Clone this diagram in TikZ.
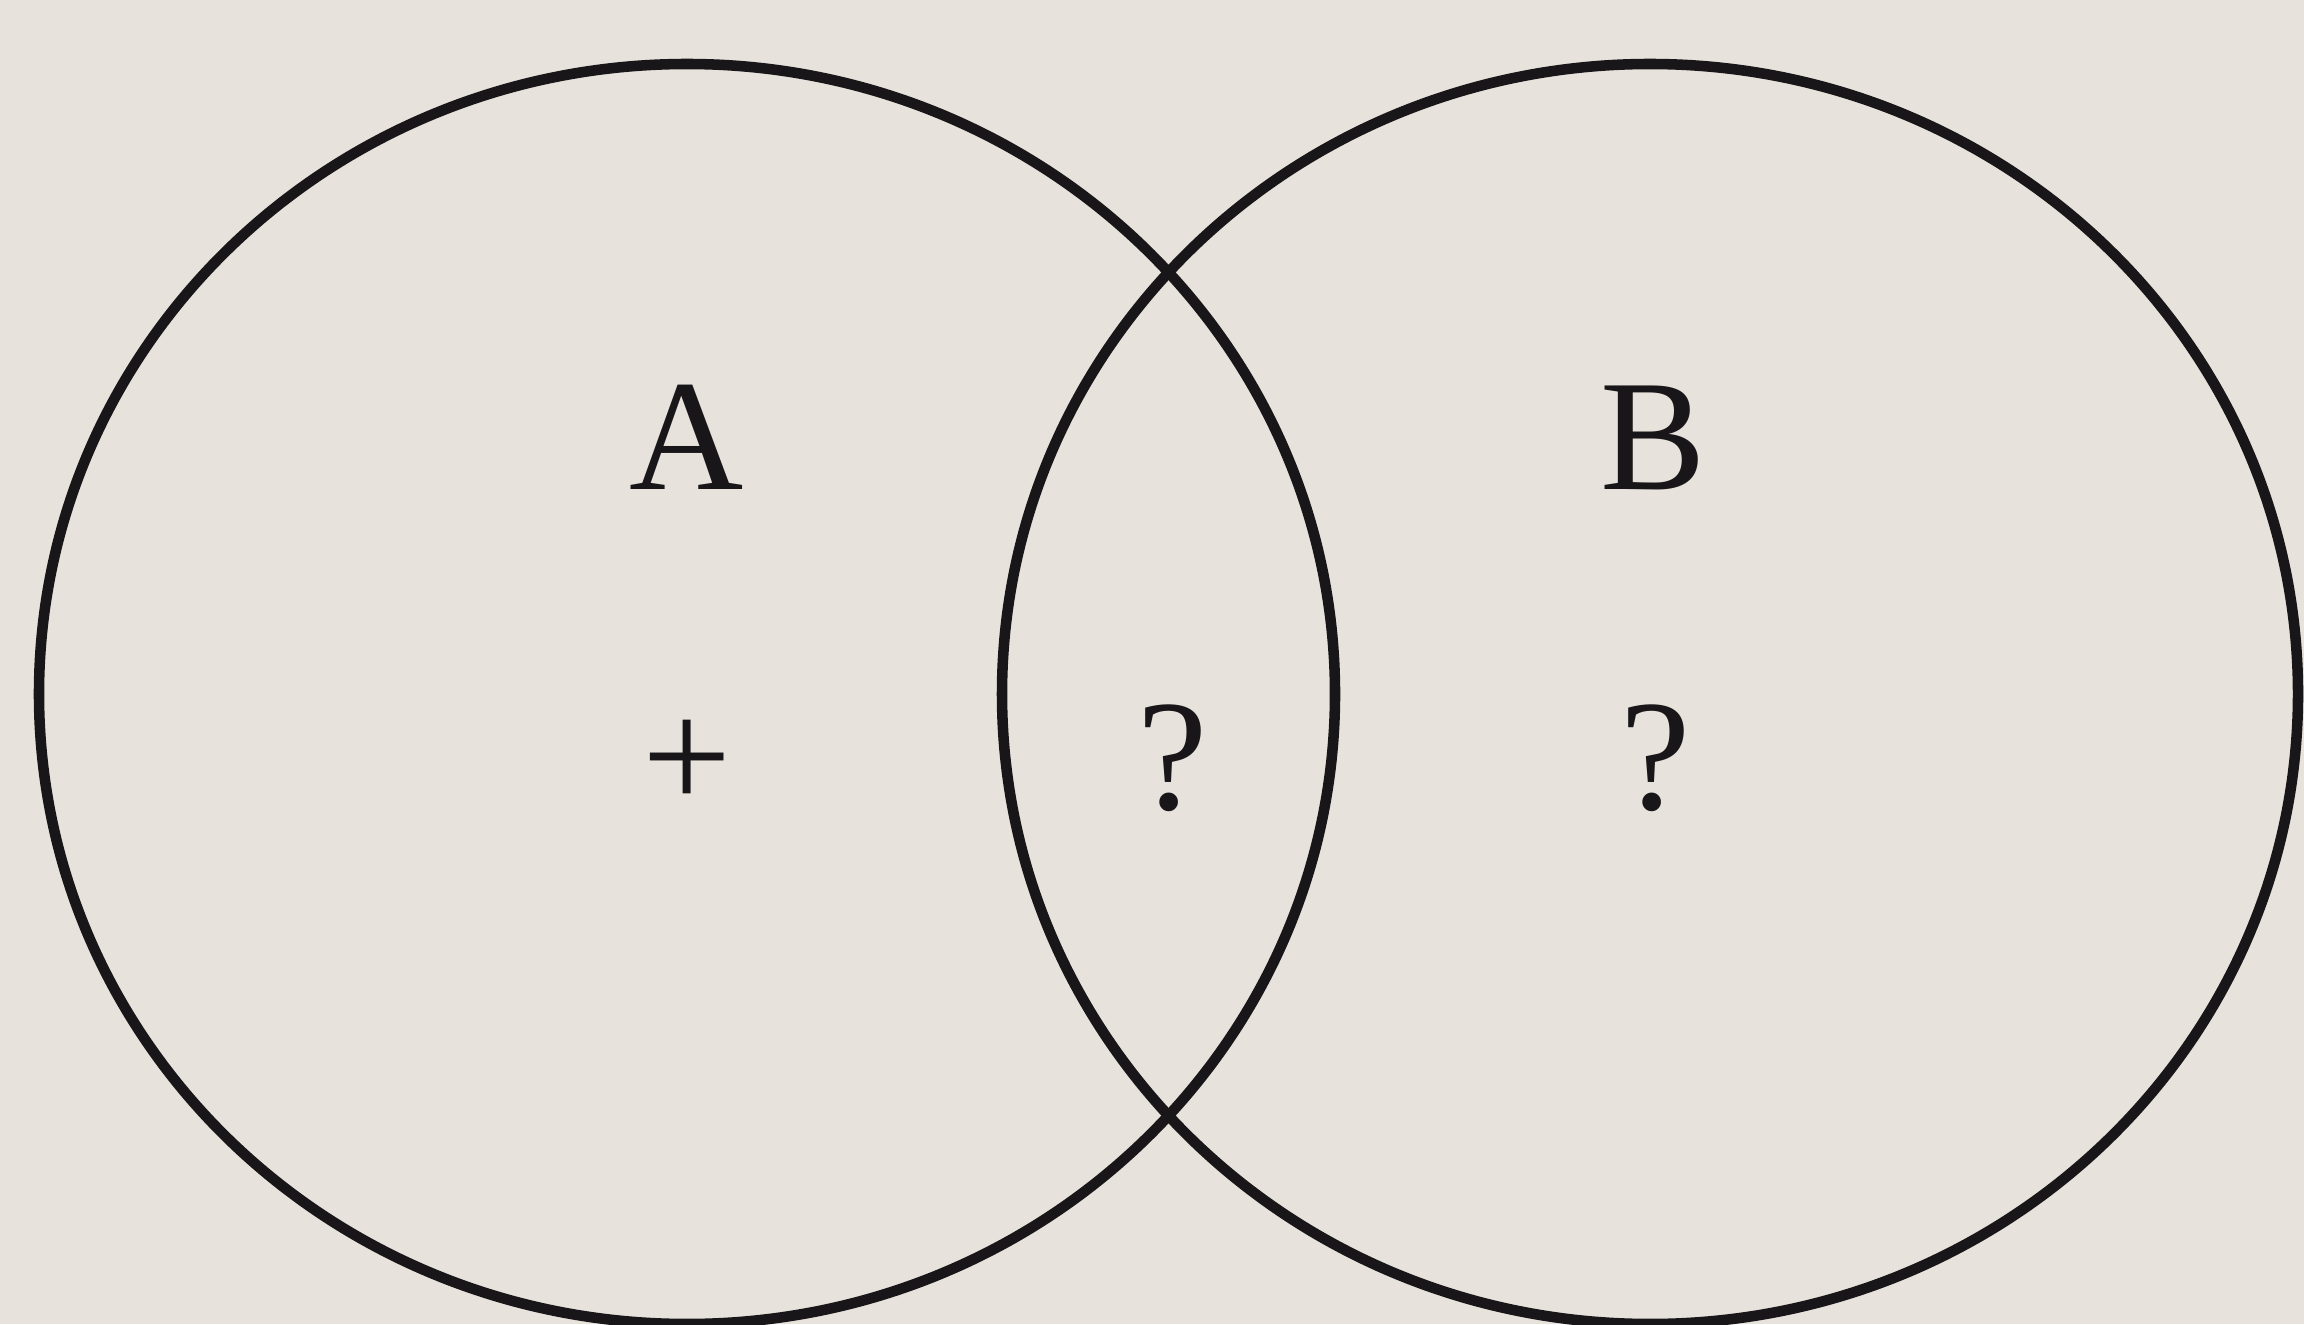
\documentclass[tikz,border=0pt]{standalone}
\usepackage{fontspec}
\setmainfont{Liberation Serif}
\usepackage{xcolor}
\usetikzlibrary{shapes,positioning}
\definecolor{paper}{RGB}{231,226,220}
\definecolor{ink}{RGB}{24,22,24}

\begin{document}
\begin{tikzpicture}\fontsize{45}{54}\selectfont
\tikzstyle{set} = [ellipse, draw=ink, line width=3pt, minimum width=12.96cm, minimum height=12.60cm, inner sep=0pt];
\tikzstyle{sign} = [text=ink, inner sep=0pt, anchor=base];

\useasboundingbox (0,0) rectangle (23.04,13.24);
\fill [paper] (0,0) rectangle (23.04,13.24);
\clip (0,0) rectangle (23.04,13.24);

	% the two sets
	\node [set] (setA) at (6.87,6.30) {};
	\node [set] (setB) at (16.50,6.30) {};

	% set names
	\node [sign] (nameA) at (6.87,8.35) {A};
	\node [sign] (nameB) at (16.53,8.35) {B};

	% region signs
	\node [sign] (onlyA) at (6.87,5.15) {+};
	\node [sign] (both) at (11.73,5.15) {?};
	\node [sign] (onlyB) at (16.56,5.15) {?};
\end{tikzpicture}
\end{document}
